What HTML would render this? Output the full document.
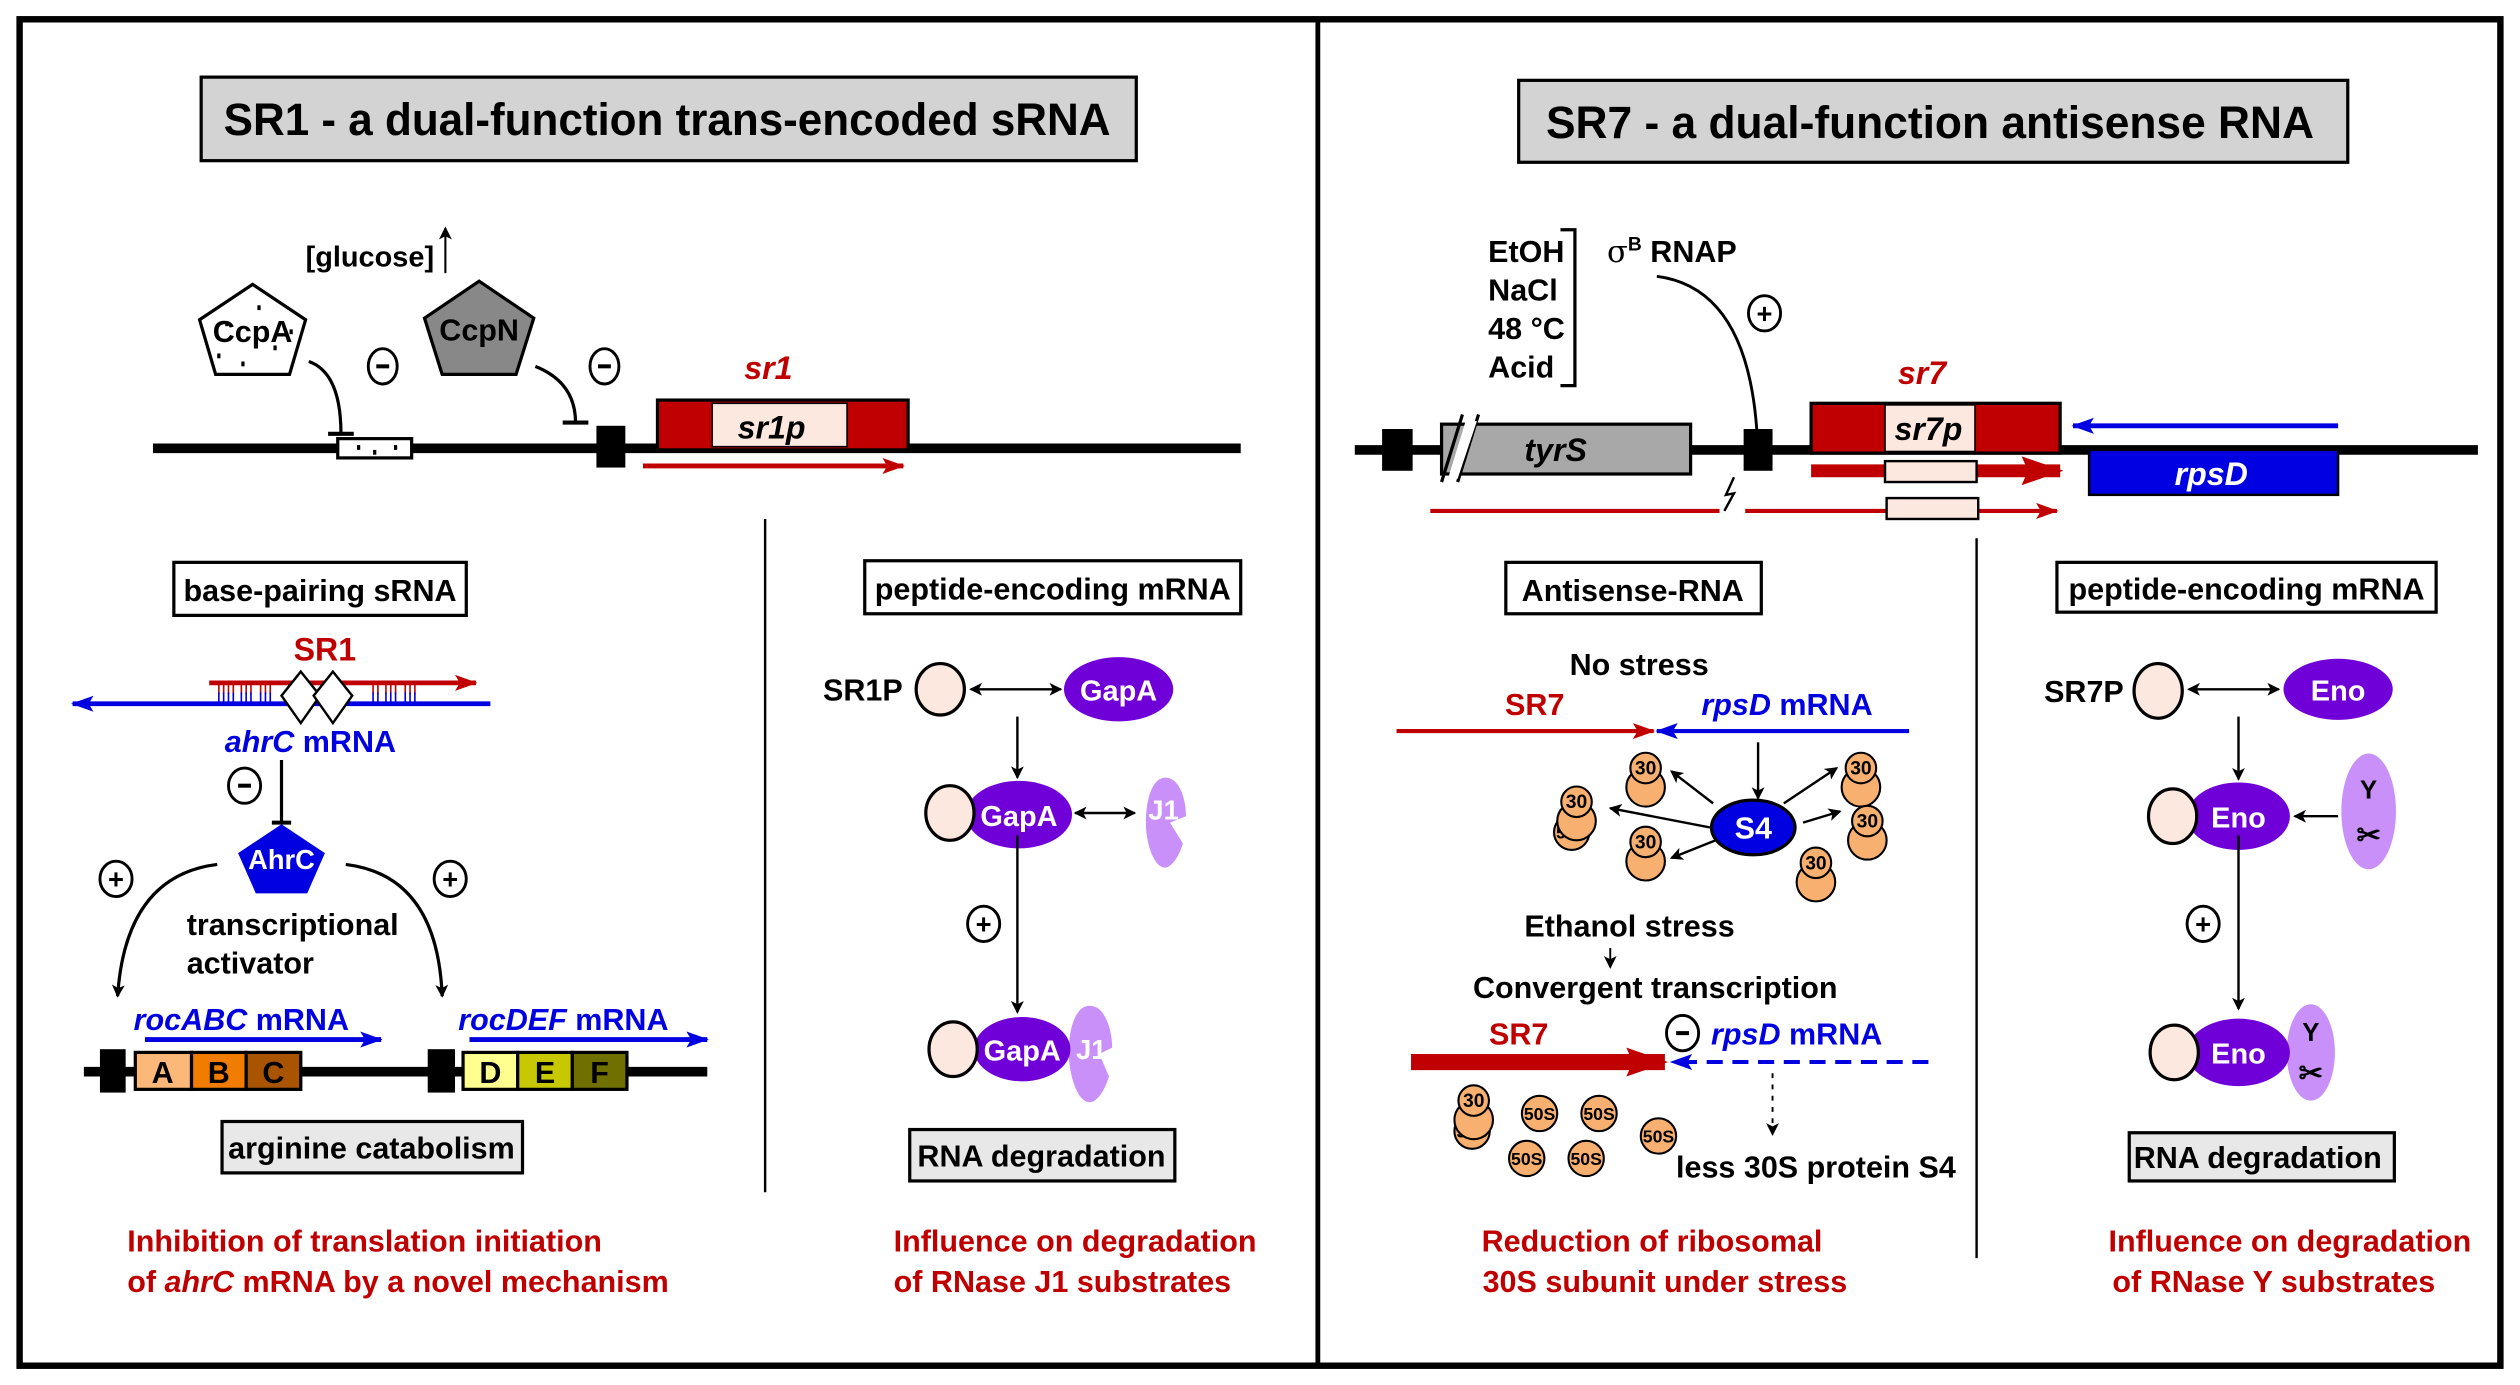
<!DOCTYPE html>
<html><head><meta charset="utf-8"><style>
html,body{margin:0;padding:0;background:#fff;width:2520px;height:1385px;overflow:hidden}
svg{display:block}
text{font-family:"Liberation Sans Narrow","Liberation Sans",sans-serif;font-weight:bold}
</style></head><body>
<svg width="2520" height="1385" viewBox="0 0 1568 862" xmlns="http://www.w3.org/2000/svg">
<defs>
<marker id="ak" markerWidth="8" markerHeight="8" refX="7" refY="4" orient="auto-start-reverse" markerUnits="userSpaceOnUse"><path d="M0,0 L8,4 L0,8 L2,4z" fill="#000"/></marker>
<marker id="ar" markerWidth="14" markerHeight="10" refX="13" refY="5" orient="auto" markerUnits="userSpaceOnUse"><path d="M0,0 L14,5 L0,10 L3,5z" fill="#c00000"/></marker>
<marker id="arT" markerWidth="26" markerHeight="18" refX="24" refY="9" orient="auto" markerUnits="userSpaceOnUse"><path d="M0,0 L26,9 L0,18 L4,9z" fill="#c00000"/></marker>
<marker id="ab" markerWidth="14" markerHeight="10" refX="13" refY="5" orient="auto" markerUnits="userSpaceOnUse"><path d="M0,0 L14,5 L0,10 L3,5z" fill="#0000e0"/></marker>
<g id="rib30"><circle cx="0" cy="7" r="12" fill="#f8b070" stroke="#000" stroke-width="1.3"/><circle cx="0" cy="-5" r="9.5" fill="#f8b070" stroke="#000" stroke-width="1.3"/><text x="0" y="-1" font-size="12" text-anchor="middle">30</text></g>
<g id="rib50"><circle cx="0" cy="0" r="11" fill="#f8b070" stroke="#000" stroke-width="1.3"/><text x="0" y="4" font-size="11" text-anchor="middle">50S</text></g>
</defs>
<rect x="12" y="12" width="1544" height="838" fill="none" stroke="#000" stroke-width="4"/>
<line x1="820" y1="12" x2="820" y2="850" stroke="#000" stroke-width="3"/>

<!-- titles -->
<rect x="125" y="48" width="582" height="52" fill="#d3d3d3" stroke="#000" stroke-width="2"/>
<text x="139" y="84" font-size="28" textLength="552" lengthAdjust="spacingAndGlyphs">SR1 - a dual-function trans-encoded sRNA</text>
<rect x="945" y="50" width="516" height="51" fill="#d3d3d3" stroke="#000" stroke-width="2"/>
<text x="962" y="86" font-size="28" textLength="478" lengthAdjust="spacingAndGlyphs">SR7 - a dual-function antisense RNA</text>

<!-- LEFT top -->
<text x="190" y="166" font-size="18">[glucose]</text>
<line x1="277" y1="170" x2="277" y2="142" stroke="#000" stroke-width="1.3" marker-end="url(#ak)"/>
<polygon points="157,177 190,199 180,233 134,233 124,199" fill="#fff" stroke="#000" stroke-width="2"/>
<g fill="#000"><rect x="140" y="200" width="2" height="3"/><rect x="160" y="190" width="2" height="3"/><rect x="170" y="215" width="2" height="3"/><rect x="150" y="225" width="2" height="3"/><rect x="180" y="205" width="2" height="3"/><rect x="135" y="220" width="2" height="3"/></g>
<text x="157" y="213" font-size="19" text-anchor="middle">CcpA</text>
<polygon points="298,175 332,198 321,233 275,233 264,198" fill="#888" stroke="#000" stroke-width="2"/>
<text x="298" y="212" font-size="19" text-anchor="middle">CcpN</text>
<path d="M192,225 Q212,232 212,270" fill="none" stroke="#000" stroke-width="2"/><line x1="204" y1="270" x2="220" y2="270" stroke="#000" stroke-width="2.5"/>
<ellipse cx="238" cy="228" rx="9" ry="11" fill="#fff" stroke="#000" stroke-width="1.8"/><line x1="234" y1="228" x2="242" y2="228" stroke="#000" stroke-width="2.5"/>
<path d="M333,228 Q358,238 358,263" fill="none" stroke="#000" stroke-width="2"/><line x1="350" y1="263" x2="366" y2="263" stroke="#000" stroke-width="2.5"/>
<ellipse cx="376" cy="228" rx="9" ry="11" fill="#fff" stroke="#000" stroke-width="1.8"/><line x1="372" y1="228" x2="380" y2="228" stroke="#000" stroke-width="2.5"/>
<line x1="95" y1="279" x2="772" y2="279" stroke="#000" stroke-width="6"/>
<rect x="210" y="273" width="46" height="12" fill="#fff" stroke="#000" stroke-width="2"/>
<rect x="222" y="277" width="2" height="3"/><rect x="232" y="280" width="2" height="3"/><rect x="245" y="277" width="2" height="3"/>
<rect x="371" y="265" width="18" height="26" fill="#000"/>
<rect x="409" y="249" width="156" height="31" fill="#c00000" stroke="#000" stroke-width="2"/>
<rect x="443" y="251" width="84" height="27" fill="#fde8e0" stroke="#000" stroke-width="1"/>
<text x="480" y="273" font-size="20" text-anchor="middle" font-style="italic">sr1p</text>
<text x="478" y="236" font-size="20" text-anchor="middle" font-style="italic" fill="#c00000">sr1</text>
<line x1="400" y1="290" x2="562" y2="290" stroke="#c00000" stroke-width="3" marker-end="url(#ar)"/>

<line x1="476" y1="323" x2="476" y2="742" stroke="#000" stroke-width="1.5"/>
<rect x="108" y="350" width="182" height="33" fill="#fff" stroke="#000" stroke-width="2"/>
<text x="199" y="374" font-size="19" text-anchor="middle">base-pairing sRNA</text>
<rect x="538" y="349" width="234" height="33" fill="#fff" stroke="#000" stroke-width="2"/>
<text x="655" y="373" font-size="19" text-anchor="middle">peptide-encoding mRNA</text>

<!-- SR1 base pairing -->
<text x="202" y="411" font-size="20" text-anchor="middle" fill="#c00000">SR1</text>
<line x1="130" y1="425" x2="296" y2="425" stroke="#c00000" stroke-width="3" marker-end="url(#ar)"/>
<line x1="305" y1="438" x2="45" y2="438" stroke="#0000e0" stroke-width="3" marker-end="url(#ab)"/>
<g stroke="#c00000" stroke-width="1"><path d="M136,426v6M139,426v6M142,426v6M145,426v6M150,426v6M153,426v6M156,426v6M162,426v6M165,426v6M168,426v6M232,426v6M235,426v6M240,426v6M243,426v6M246,426v6M252,426v6M255,426v6M258,426v6"/></g>
<g stroke="#0000e0" stroke-width="1"><path d="M136,431v6M139,431v6M142,431v6M145,431v6M150,431v6M153,431v6M156,431v6M162,431v6M165,431v6M168,431v6M232,431v6M235,431v6M240,431v6M243,431v6M246,431v6M252,431v6M255,431v6M258,431v6"/></g>
<polygon points="187,418 199,433 187,450 175,433" fill="#fff" stroke="#000" stroke-width="1.5"/>
<polygon points="207,418 219,433 207,450 195,433" fill="#fff" stroke="#000" stroke-width="1.5"/>
<text x="193" y="468" font-size="19" text-anchor="middle" fill="#0000e0"><tspan font-style="italic">ahrC</tspan> mRNA</text>
<ellipse cx="152" cy="489" rx="10" ry="11" fill="#fff" stroke="#000" stroke-width="1.8"/><line x1="148" y1="489" x2="156" y2="489" stroke="#000" stroke-width="2.5"/>
<line x1="175" y1="473" x2="175" y2="512" stroke="#000" stroke-width="2"/><line x1="169" y1="512" x2="181" y2="512" stroke="#000" stroke-width="2.5"/>
<polygon points="175,513 202,531 191,556 159,556 148,531" fill="#0000e0"/>
<text x="175" y="541" font-size="17" text-anchor="middle" fill="#fff">AhrC</text>
<ellipse cx="72" cy="547" rx="10" ry="11" fill="#fff" stroke="#000" stroke-width="1.8"/><text x="72" y="553" font-size="17" text-anchor="middle">+</text>
<ellipse cx="280" cy="547" rx="10" ry="11" fill="#fff" stroke="#000" stroke-width="1.8"/><text x="280" y="553" font-size="17" text-anchor="middle">+</text>
<path d="M135,538 Q78,545 73,620" fill="none" stroke="#000" stroke-width="2" marker-end="url(#ak)"/>
<path d="M215,538 Q272,545 275,620" fill="none" stroke="#000" stroke-width="2" marker-end="url(#ak)"/>
<text x="116" y="582" font-size="19">transcriptional</text>
<text x="116" y="606" font-size="19">activator</text>
<text x="83" y="641" font-size="19" fill="#0000e0"><tspan font-style="italic">rocABC</tspan> mRNA</text>
<line x1="90" y1="647" x2="237" y2="647" stroke="#0000e0" stroke-width="3" marker-end="url(#ab)"/>
<text x="285" y="641" font-size="19" fill="#0000e0"><tspan font-style="italic">rocDEF</tspan> mRNA</text>
<line x1="292" y1="647" x2="440" y2="647" stroke="#0000e0" stroke-width="3" marker-end="url(#ab)"/>
<line x1="52" y1="667" x2="440" y2="667" stroke="#000" stroke-width="6"/>
<rect x="62" y="653" width="16" height="27" fill="#000"/><rect x="266" y="653" width="17" height="27" fill="#000"/>
<g stroke="#000" stroke-width="2">
<rect x="84" y="655" width="35" height="23" fill="#fcb878"/><rect x="119" y="655" width="34" height="23" fill="#f07c00"/><rect x="153" y="655" width="34" height="23" fill="#a85400"/>
<rect x="288" y="655" width="34" height="23" fill="#ffff90"/><rect x="322" y="655" width="34" height="23" fill="#c8c800"/><rect x="356" y="655" width="34" height="23" fill="#707000"/>
</g>
<g font-size="19" text-anchor="middle"><text x="101" y="674">A</text><text x="136" y="674">B</text><text x="170" y="674">C</text><text x="305" y="674">D</text><text x="339" y="674">E</text><text x="373" y="674">F</text></g>
<rect x="138" y="698" width="187" height="32" fill="#e8e8e8" stroke="#000" stroke-width="2"/>
<text x="231" y="721" font-size="19" text-anchor="middle">arginine catabolism</text>
<text x="79" y="779" font-size="19" fill="#c00000">Inhibition of translation initiation</text>
<text x="79" y="804" font-size="19" fill="#c00000">of <tspan font-style="italic">ahrC</tspan> mRNA by a novel mechanism</text>

<!-- SR1P -->
<text x="512" y="436" font-size="19">SR1P</text>
<ellipse cx="585" cy="429" rx="15" ry="16" fill="#fde8e0" stroke="#000" stroke-width="2"/>
<line x1="604" y1="429" x2="660" y2="429" stroke="#000" stroke-width="1.5" marker-end="url(#ak)" marker-start="url(#ak)"/>
<ellipse cx="696" cy="429" rx="34" ry="20" fill="#7000d8"/><text x="696" y="436" font-size="18" text-anchor="middle" fill="#fff">GapA</text>
<line x1="633" y1="446" x2="633" y2="484" stroke="#000" stroke-width="1.5" marker-end="url(#ak)"/>
<ellipse cx="634" cy="507" rx="33" ry="21" fill="#7000d8"/><text x="634" y="514" font-size="18" text-anchor="middle" fill="#fff">GapA</text>
<ellipse cx="591" cy="506" rx="15" ry="17" fill="#fde8e0" stroke="#000" stroke-width="2"/>
<line x1="669" y1="506" x2="706" y2="506" stroke="#000" stroke-width="1.5" marker-end="url(#ak)" marker-start="url(#ak)"/>
<path d="M725,484 C735,484 738,500 738,508 L728,512 L736,525 C733,535 728,540 725,540 C718,540 713,525 713,512 C713,495 718,484 725,484z" fill="#c890f8"/>
<text x="724" y="510" font-size="17" text-anchor="middle" fill="#fff">J1</text>
<ellipse cx="612" cy="575" rx="10" ry="11" fill="#fff" stroke="#000" stroke-width="1.8"/><text x="612" y="581" font-size="17" text-anchor="middle">+</text>
<line x1="633" y1="520" x2="633" y2="630" stroke="#000" stroke-width="1.5" marker-end="url(#ak)"/>
<path d="M678,626 C688,626 692,642 692,652 L684,656 L690,670 C687,680 682,686 678,686 C670,686 665,668 665,655 C665,638 670,626 678,626z" fill="#c890f8"/>
<ellipse cx="636" cy="653" rx="30" ry="20" fill="#7000d8"/><text x="636" y="660" font-size="18" text-anchor="middle" fill="#fff">GapA</text>
<text x="679" y="659" font-size="17" text-anchor="middle" fill="#fff">J1</text>
<ellipse cx="593" cy="653" rx="15" ry="17" fill="#fde8e0" stroke="#000" stroke-width="2"/>
<rect x="566" y="703" width="165" height="32" fill="#e8e8e8" stroke="#000" stroke-width="2"/>
<text x="648" y="726" font-size="19" text-anchor="middle">RNA degradation</text>
<text x="556" y="779" font-size="19" fill="#c00000">Influence on degradation</text>
<text x="556" y="804" font-size="19" fill="#c00000">of RNase J1 substrates</text>

<!-- RIGHT top -->
<g font-size="19"><text x="926" y="163">EtOH</text><text x="926" y="187">NaCl</text><text x="926" y="211">48 °C</text><text x="926" y="235">Acid</text></g>
<path d="M971,143 H980 V240 H971" fill="none" stroke="#000" stroke-width="2"/>
<text x="1000" y="163" font-size="19"><tspan font-family="DejaVu Serif" font-weight="normal">σ</tspan><tspan font-size="12" dy="-7">B</tspan><tspan dy="7"> RNAP</tspan></text>
<path d="M1031,172 Q1093,180 1094,288" fill="none" stroke="#000" stroke-width="1.8" marker-end="url(#ak)"/>
<ellipse cx="1098" cy="195" rx="10" ry="11" fill="#fff" stroke="#000" stroke-width="1.8"/><text x="1098" y="201" font-size="17" text-anchor="middle">+</text>
<line x1="843" y1="280" x2="1542" y2="280" stroke="#000" stroke-width="6"/>
<rect x="860" y="267" width="19" height="26" fill="#000"/><rect x="1085" y="267" width="18" height="26" fill="#000"/>
<rect x="897" y="264" width="155" height="31" fill="#a8a8a8" stroke="#000" stroke-width="2"/>
<line x1="897" y1="300" x2="910" y2="258" stroke="#000" stroke-width="2"/><line x1="907" y1="300" x2="920" y2="258" stroke="#000" stroke-width="2"/>
<polygon points="912,262 919,262 907,298 901,298" fill="#fff"/>
<text x="968" y="287" font-size="20" text-anchor="middle" font-style="italic">tyrS</text>
<rect x="1127" y="251" width="155" height="31" fill="#c00000" stroke="#000" stroke-width="2"/>
<rect x="1173" y="252" width="56" height="29" fill="#fde8e0" stroke="#000" stroke-width="1"/>
<text x="1200" y="274" font-size="20" text-anchor="middle" font-style="italic">sr7p</text>
<text x="1196" y="239" font-size="20" text-anchor="middle" font-style="italic" fill="#c00000">sr7</text>
<line x1="1455" y1="265" x2="1290" y2="265" stroke="#0000e0" stroke-width="3" marker-end="url(#ab)"/>
<rect x="1300" y="280" width="155" height="28" fill="#0000e0" stroke="#000" stroke-width="1.5"/>
<text x="1376" y="302" font-size="20" text-anchor="middle" font-style="italic" fill="#fff">rpsD</text>
<line x1="1127" y1="293" x2="1282" y2="293" stroke="#c00000" stroke-width="8" marker-end="url(#arT)"/>
<rect x="1173" y="287" width="57" height="13" fill="#fde8e0" stroke="#000" stroke-width="1.5"/>
<line x1="890" y1="318" x2="1070" y2="318" stroke="#c00000" stroke-width="2.5"/>
<line x1="1086" y1="318" x2="1280" y2="318" stroke="#c00000" stroke-width="2.5" marker-end="url(#ar)"/>
<rect x="1174" y="310" width="57" height="13" fill="#fde8e0" stroke="#000" stroke-width="1.5"/>
<path d="M1079,297 L1074,308 L1079,307 L1073,318" fill="none" stroke="#000" stroke-width="1.5"/>

<line x1="1230" y1="335" x2="1230" y2="783" stroke="#000" stroke-width="1.5"/>
<rect x="937" y="350" width="159" height="32" fill="#fff" stroke="#000" stroke-width="2"/>
<text x="1016" y="374" font-size="19" text-anchor="middle">Antisense-RNA</text>
<rect x="1280" y="350" width="236" height="31" fill="#fff" stroke="#000" stroke-width="2"/>
<text x="1398" y="373" font-size="19" text-anchor="middle">peptide-encoding mRNA</text>

<text x="1020" y="420" font-size="19" text-anchor="middle">No stress</text>
<text x="955" y="445" font-size="19" text-anchor="middle" fill="#c00000">SR7</text>
<text x="1112" y="445" font-size="19" text-anchor="middle" fill="#0000e0"><tspan font-style="italic">rpsD</tspan> mRNA</text>
<line x1="869" y1="455" x2="1029" y2="455" stroke="#c00000" stroke-width="2.5" marker-end="url(#ar)"/>
<line x1="1188" y1="455" x2="1031" y2="455" stroke="#0000e0" stroke-width="2.5" marker-end="url(#ab)"/>
<line x1="1094" y1="462" x2="1094" y2="497" stroke="#000" stroke-width="1.5" marker-end="url(#ak)"/>
<g stroke="#000" stroke-width="1.5" marker-end="url(#ak)">
<line x1="1066" y1="500" x2="1040" y2="480"/><line x1="1064" y1="515" x2="1002" y2="503"/><line x1="1070" y1="522" x2="1040" y2="534"/>
<line x1="1110" y1="500" x2="1143" y2="478"/><line x1="1122" y1="512" x2="1145" y2="505"/>
</g>
<use href="#rib30" x="1024" y="483"/><use href="#rib30" x="1158" y="483"/><use href="#rib30" x="1162" y="516"/><use href="#rib30" x="1024" y="529"/><use href="#rib30" x="1130" y="542"/>
<use href="#rib50" x="978" y="518"/><use href="#rib30" x="981" y="504"/>
<ellipse cx="1091" cy="515" rx="26" ry="17" fill="#0000e0" stroke="#000" stroke-width="2"/><text x="1091" y="522" font-size="19" text-anchor="middle" fill="#fff">S4</text>
<text x="1014" y="583" font-size="19" text-anchor="middle">Ethanol stress</text>
<line x1="1002" y1="590" x2="1002" y2="602" stroke="#000" stroke-width="1.2" marker-end="url(#ak)"/>
<text x="1030" y="621" font-size="19" text-anchor="middle">Convergent transcription</text>
<text x="945" y="650" font-size="19" text-anchor="middle" fill="#c00000">SR7</text>
<line x1="878" y1="661" x2="1036" y2="661" stroke="#c00000" stroke-width="10" marker-end="url(#arT)"/>
<ellipse cx="1047" cy="643" rx="10" ry="11" fill="#fff" stroke="#000" stroke-width="1.8"/><line x1="1043" y1="643" x2="1051" y2="643" stroke="#000" stroke-width="2.5"/>
<text x="1118" y="650" font-size="19" text-anchor="middle" fill="#0000e0"><tspan font-style="italic">rpsD</tspan> mRNA</text>
<line x1="1200" y1="661" x2="1040" y2="661" stroke="#0000e0" stroke-width="2.5" stroke-dasharray="10,6" marker-end="url(#ab)"/>
<line x1="1103" y1="668" x2="1103" y2="706" stroke="#000" stroke-width="1.2" stroke-dasharray="3,4" marker-end="url(#ak)"/>
<text x="1130" y="733" font-size="19" text-anchor="middle">less 30S protein S4</text>
<use href="#rib50" x="916" y="704"/><use href="#rib30" x="917" y="690"/>
<use href="#rib50" x="958" y="693"/><use href="#rib50" x="995" y="693"/><use href="#rib50" x="950" y="721"/><use href="#rib50" x="987" y="721"/><use href="#rib50" x="1032" y="707"/>
<text x="1028" y="779" font-size="19" text-anchor="middle" fill="#c00000">Reduction of ribosomal</text>
<text x="1036" y="804" font-size="19" text-anchor="middle" fill="#c00000">30S subunit under stress</text>

<!-- SR7P -->
<text x="1272" y="437" font-size="19">SR7P</text>
<ellipse cx="1343" cy="430" rx="15" ry="17" fill="#fde8e0" stroke="#000" stroke-width="2"/>
<line x1="1362" y1="429" x2="1418" y2="429" stroke="#000" stroke-width="1.5" marker-end="url(#ak)" marker-start="url(#ak)"/>
<ellipse cx="1455" cy="429" rx="34" ry="19" fill="#7000d8"/><text x="1455" y="436" font-size="18" text-anchor="middle" fill="#fff">Eno</text>
<line x1="1393" y1="446" x2="1393" y2="485" stroke="#000" stroke-width="1.5" marker-end="url(#ak)"/>
<ellipse cx="1474" cy="505" rx="17" ry="36" fill="#c890f8"/>
<text x="1474" y="497" font-size="16" text-anchor="middle">Y</text>
<text x="1474" y="526" font-size="18" text-anchor="middle" font-family="DejaVu Sans">✂</text>
<line x1="1455" y1="508" x2="1428" y2="508" stroke="#000" stroke-width="1.5" marker-end="url(#ak)"/>
<ellipse cx="1393" cy="508" rx="32" ry="21" fill="#7000d8"/><text x="1393" y="515" font-size="18" text-anchor="middle" fill="#fff">Eno</text>
<ellipse cx="1352" cy="508" rx="15" ry="17" fill="#fde8e0" stroke="#000" stroke-width="2"/>
<ellipse cx="1371" cy="575" rx="10" ry="11" fill="#fff" stroke="#000" stroke-width="1.8"/><text x="1371" y="581" font-size="17" text-anchor="middle">+</text>
<line x1="1393" y1="520" x2="1393" y2="628" stroke="#000" stroke-width="1.5" marker-end="url(#ak)"/>
<ellipse cx="1438" cy="655" rx="15" ry="30" fill="#c890f8"/>
<ellipse cx="1393" cy="655" rx="32" ry="21" fill="#7000d8"/><text x="1393" y="662" font-size="18" text-anchor="middle" fill="#fff">Eno</text>
<text x="1438" y="648" font-size="16" text-anchor="middle">Y</text>
<text x="1438" y="674" font-size="18" text-anchor="middle" font-family="DejaVu Sans">✂</text>
<ellipse cx="1353" cy="655" rx="15" ry="17" fill="#fde8e0" stroke="#000" stroke-width="2"/>
<rect x="1325" y="705" width="165" height="30" fill="#e8e8e8" stroke="#000" stroke-width="2"/>
<text x="1405" y="727" font-size="19" text-anchor="middle">RNA degradation</text>
<text x="1425" y="779" font-size="19" text-anchor="middle" fill="#c00000">Influence on degradation</text>
<text x="1415" y="804" font-size="19" text-anchor="middle" fill="#c00000">of RNase Y substrates</text>
</svg>
</body></html>
